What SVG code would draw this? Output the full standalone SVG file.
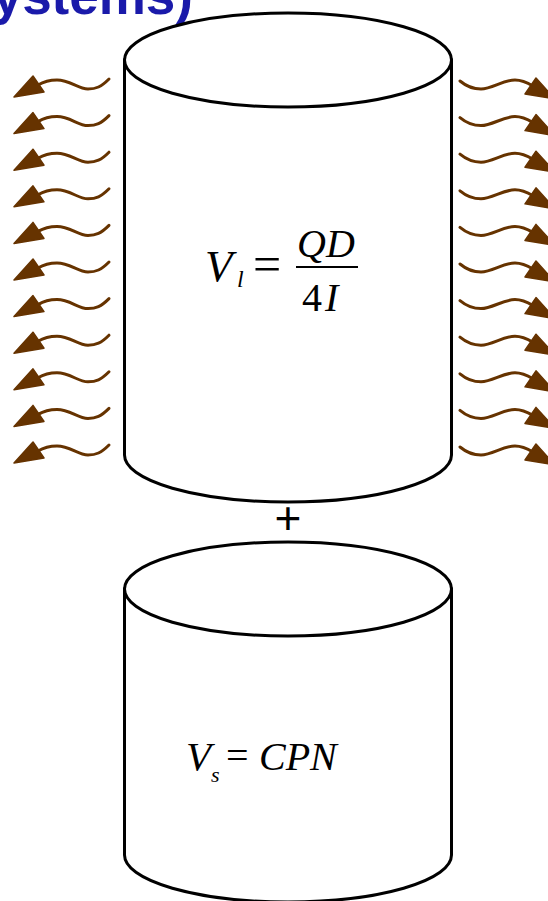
<svg xmlns="http://www.w3.org/2000/svg" xmlns:xlink="http://www.w3.org/1999/xlink" width="548" height="901" viewBox="0 0 548 901">
<style>
.cyl{fill:#ffffff;stroke:#000000;stroke-width:3}
.wave{fill:none;stroke:#663300;stroke-width:3;stroke-linecap:round}
.head{fill:#663300;stroke:#663300;stroke-width:1.5;stroke-linejoin:round}
.math{font-family:"Liberation Serif","Times New Roman",serif;font-style:italic;fill:#000000}
.up{font-style:normal}
.title{font-family:"Liberation Sans",Arial,sans-serif;font-weight:bold;fill:#1a1aaa}
</style>
<defs>
<g id="arrowL">
<path class="wave" d="M109,0 C101,8 96,10 88,10 C78,10 70,1 57,1 C49,1 43,3 38,6"/>
<polygon class="head" points="33,-3 14,18 44,13"/>
</g>
<g id="arrowR">
<path class="wave" d="M460,0 C466,5 473,8 481,8 C492,8 503,-1 515,-1 C522,-1 528,2 533,5"/>
<polygon class="head" points="536,-3 555,18 525,13"/>
</g>
</defs>
<rect x="0" y="0" width="548" height="901" fill="#ffffff"/>
<text class="title" x="193" y="14" font-size="53" text-anchor="end">ystems)</text>
<g id="connectors">
<g id="heat-left">
<use xlink:href="#arrowL" transform="translate(0,79)"/>
<use xlink:href="#arrowL" transform="translate(0,115.6)"/>
<use xlink:href="#arrowL" transform="translate(0,152.2)"/>
<use xlink:href="#arrowL" transform="translate(0,188.8)"/>
<use xlink:href="#arrowL" transform="translate(0,225.4)"/>
<use xlink:href="#arrowL" transform="translate(0,262)"/>
<use xlink:href="#arrowL" transform="translate(0,298.6)"/>
<use xlink:href="#arrowL" transform="translate(0,335.2)"/>
<use xlink:href="#arrowL" transform="translate(0,371.8)"/>
<use xlink:href="#arrowL" transform="translate(0,408.4)"/>
<use xlink:href="#arrowL" transform="translate(0,445)"/>
</g>
<g id="heat-right">
<use xlink:href="#arrowR" transform="translate(0,81)"/>
<use xlink:href="#arrowR" transform="translate(0,117.6)"/>
<use xlink:href="#arrowR" transform="translate(0,154.2)"/>
<use xlink:href="#arrowR" transform="translate(0,190.8)"/>
<use xlink:href="#arrowR" transform="translate(0,227.4)"/>
<use xlink:href="#arrowR" transform="translate(0,264)"/>
<use xlink:href="#arrowR" transform="translate(0,300.6)"/>
<use xlink:href="#arrowR" transform="translate(0,337.2)"/>
<use xlink:href="#arrowR" transform="translate(0,373.8)"/>
<use xlink:href="#arrowR" transform="translate(0,410.4)"/>
<use xlink:href="#arrowR" transform="translate(0,447)"/>
</g>
</g>
<g id="cylinder-top">
<path class="cyl" d="M124.5,60 L124.5,455 A163.5,47 0 0 0 451.5,455 L451.5,60 Z"/>
<ellipse class="cyl" cx="288" cy="60" rx="163.5" ry="47"/>
<text class="math" x="205" y="281" font-size="45">V</text>
<text class="math" x="237" y="287" font-size="24">l</text>
<text class="math up" x="253" y="281" font-size="50">=</text>
<text class="math" x="297" y="257" font-size="40">QD</text>
<line x1="296" y1="267" x2="358" y2="267" stroke="#000000" stroke-width="2"/>
<text class="math up" x="302" y="311" font-size="40">4</text>
<text class="math" x="325" y="311" font-size="40">I</text>
</g>
<g id="plus">
<text x="288" y="534" font-family="'Liberation Sans',Arial,sans-serif" font-size="46" text-anchor="middle" fill="#000000">+</text>
</g>
<g id="cylinder-bottom">
<path class="cyl" d="M124.5,589 L124.5,855 A163.5,47 0 0 0 451.5,855 L451.5,589 Z"/>
<ellipse class="cyl" cx="288" cy="589" rx="163.5" ry="47"/>
<text class="math" x="186" y="770" font-size="41">V</text>
<text class="math" x="211" y="782" font-size="22">s</text>
<text class="math up" x="226" y="769" font-size="40">=</text>
<text class="math" x="259" y="770" font-size="40">CPN</text>
</g>
</svg>
